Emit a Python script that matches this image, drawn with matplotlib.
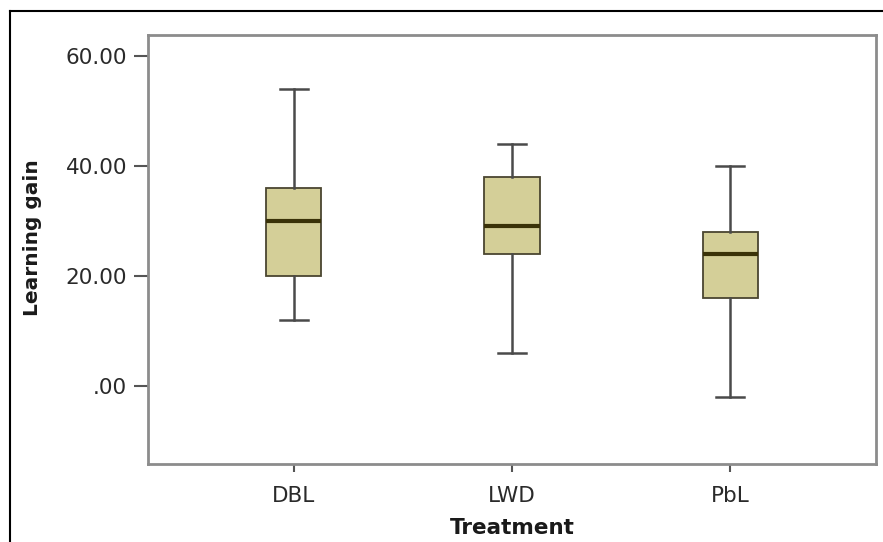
import matplotlib
matplotlib.use("Agg")
import matplotlib.pyplot as plt
from matplotlib.lines import Line2D

plt.rcParams['font.family'] = ['DejaVu Sans']

categories = ["DBL", "LWD", "PbL"]
whisker_low = [12, 6, -2]
q1 = [20, 24, 16]
median = [30, 29, 24]
q3 = [36, 38, 28]
whisker_high = [54, 44, 40]
yticks = [0, 20, 40, 60]
ytick_labels = [".00", "20.00", "40.00", "60.00"]

stats = []
for i, c in enumerate(categories):
    stats.append(dict(label=c, whislo=whisker_low[i], q1=q1[i], med=median[i],
                      q3=q3[i], whishi=whisker_high[i], fliers=[]))

fig = plt.figure(figsize=(8.83, 5.42), dpi=100)
ax = fig.add_axes([0.1676, 0.1439, 0.9921 - 0.1676, 0.9354 - 0.1439])

box_color = "#d4cf98"
bp = ax.bxp(stats, positions=[1, 2, 3], widths=0.253, patch_artist=True,
            showfliers=False,
            boxprops=dict(facecolor=box_color, edgecolor="#4a4530", linewidth=1.3),
            medianprops=dict(color="#3a3208", linewidth=3),
            whiskerprops=dict(color="#4a4a4a", linewidth=1.8),
            capprops=dict(color="#4a4a4a", linewidth=1.8),
            capwidths=0.128)

ax.set_xlim(0.333, 3.667)
ax.set_ylim(-14.25, 63.75)
ax.set_yticks(yticks)
ax.set_yticklabels(ytick_labels)
ax.set_xticks([1, 2, 3])
ax.set_xticklabels(categories)

for s in ax.spines.values():
    s.set_color("#8c8c8c")
    s.set_linewidth(2)

ax.tick_params(axis='y', length=10, width=1.5, color="#555555", labelsize=15.5,
               labelcolor="#2a2a2a", pad=5)
ax.tick_params(axis='x', length=6, width=1.5, color="#555555", labelsize=15.5,
               labelcolor="#2a2a2a", pad=10)

ax.set_xlabel("Treatment", fontsize=15.5, fontweight='bold', color="#1a1a1a")
ax.set_ylabel("Learning gain", fontsize=14.5, fontweight='bold', color="#1a1a1a")
ax.xaxis.label.set_va('center')
ax.yaxis.label.set_va('center')
ax.xaxis.set_label_coords(0.5007, -0.149)
ax.yaxis.set_label_coords(-0.158, 0.527)

# outer black border (top and left visible)
fig.add_artist(Line2D([0.011, 1.0], [0.980, 0.980], transform=fig.transFigure,
                      color="black", linewidth=1.5))
fig.add_artist(Line2D([0.011, 0.011], [0.0, 0.980], transform=fig.transFigure,
                      color="black", linewidth=1.5))

fig.savefig("out.png", dpi=100)
